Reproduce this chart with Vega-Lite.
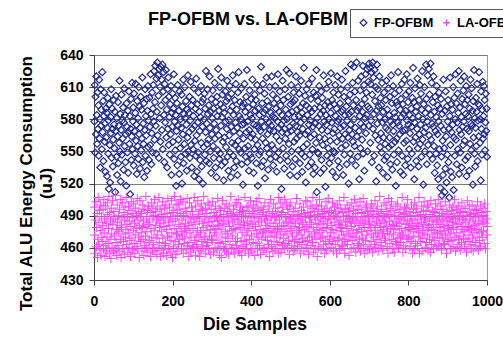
{
"$schema": "https://vega.github.io/schema/vega-lite/v6.json",
"width": 393, "height": 225,
"autosize": {"type": "none"},
"padding": {"left": 94, "top": 55, "right": 16, "bottom": 64},
"background": "white",
"config": {
 "font": "Liberation Sans",
 "view": {"stroke": "#9a9a9a", "strokeWidth": 1, "fill": "white"},
 "axis": {"labelFont": "Liberation Sans", "labelFontSize": 14, "labelFontWeight": "bold", "labelColor": "#000", "titleFont": "Liberation Sans", "titleFontSize": 17.5, "titleFontWeight": "bold", "titleColor": "#000", "domainColor": "#404040", "tickColor": "#404040", "tickSize": 5, "domainWidth": 1, "tickWidth": 1},
 "legend": {"strokeColor": "#555", "strokeWidth": 1}
},
"title": {"text": "FP-OFBM vs. LA-OFBM", "anchor": "start", "frame": "group", "dx": 54, "dy": 44, "fontSize": 18, "fontWeight": "bold", "font": "Liberation Sans", "color": "#000", "offset": 24},
"data": {"values": [
{"d":1,"fp":578,"la":472},{"d":2,"fp":612,"la":498},{"d":3,"fp":549,"la":455},{"d":4,"fp":601,"la":486},{"d":5,"fp":566,"la":503},{"d":6,"fp":620,"la":461},{"d":7,"fp":584,"la":479},{"d":8,"fp":557,"la":492},{"d":9,"fp":605,"la":451},{"d":10,"fp":571,"la":468},
{"d":11,"fp":593,"la":507},{"d":12,"fp":546,"la":463},{"d":13,"fp":617,"la":484},{"d":14,"fp":562,"la":495},{"d":15,"fp":580,"la":458},{"d":16,"fp":535,"la":476},{"d":17,"fp":608,"la":500},{"d":18,"fp":574,"la":453},{"d":19,"fp":589,"la":489},{"d":20,"fp":552,"la":470},
{"d":21,"fp":624,"la":466},{"d":22,"fp":568,"la":481},{"d":23,"fp":597,"la":496},{"d":24,"fp":541,"la":459},{"d":25,"fp":583,"la":505},{"d":26,"fp":605,"la":474},{"d":27,"fp":559,"la":487},{"d":28,"fp":576,"la":452},{"d":29,"fp":531,"la":499},{"d":30,"fp":590,"la":462},
{"d":31,"fp":563,"la":483},{"d":32,"fp":586,"la":457},{"d":33,"fp":527,"la":470},{"d":34,"fp":572,"la":502},{"d":35,"fp":600,"la":491},{"d":36,"fp":548,"la":464},{"d":37,"fp":579,"la":478},{"d":38,"fp":515,"la":508},{"d":39,"fp":594,"la":455},{"d":40,"fp":556,"la":493},
{"d":41,"fp":521,"la":468},{"d":42,"fp":582,"la":485},{"d":43,"fp":567,"la":450},{"d":44,"fp":608,"la":497},{"d":45,"fp":544,"la":473},{"d":46,"fp":590,"la":460},{"d":47,"fp":571,"la":504},{"d":48,"fp":536,"la":482},{"d":49,"fp":561,"la":489},{"d":50,"fp":598,"la":456},
{"d":51,"fp":575,"la":494},{"d":52,"fp":553,"la":471},{"d":53,"fp":587,"la":458},{"d":54,"fp":512,"la":487},{"d":55,"fp":569,"la":509},{"d":56,"fp":602,"la":465},{"d":57,"fp":545,"la":477},{"d":58,"fp":581,"la":453},{"d":59,"fp":528,"la":500},{"d":60,"fp":564,"la":484},
{"d":61,"fp":596,"la":462},{"d":62,"fp":539,"la":490},{"d":63,"fp":574,"la":475},{"d":64,"fp":558,"la":457},{"d":65,"fp":616,"la":496},{"d":66,"fp":550,"la":481},{"d":67,"fp":585,"la":468},{"d":68,"fp":522,"la":505},{"d":69,"fp":570,"la":451},{"d":70,"fp":603,"la":479},
{"d":71,"fp":547,"la":488},{"d":72,"fp":579,"la":459},{"d":73,"fp":562,"la":502},{"d":74,"fp":591,"la":473},{"d":75,"fp":533,"la":466},{"d":76,"fp":577,"la":493},{"d":77,"fp":609,"la":454},{"d":78,"fp":555,"la":486},{"d":79,"fp":584,"la":498},{"d":80,"fp":540,"la":470},
{"d":81,"fp":566,"la":477},{"d":82,"fp":518,"la":507},{"d":83,"fp":595,"la":463},{"d":84,"fp":573,"la":482},{"d":85,"fp":549,"la":491},{"d":86,"fp":588,"la":456},{"d":87,"fp":530,"la":474},{"d":88,"fp":568,"la":499},{"d":89,"fp":606,"la":460},{"d":90,"fp":557,"la":485},
{"d":91,"fp":583,"la":469},{"d":92,"fp":510,"la":495},{"d":93,"fp":571,"la":452},{"d":94,"fp":599,"la":480},{"d":95,"fp":542,"la":503},{"d":96,"fp":564,"la":467},{"d":97,"fp":614,"la":488},{"d":98,"fp":552,"la":458},{"d":99,"fp":578,"la":492},{"d":100,"fp":591,"la":476},
{"d":101,"fp":537,"la":501},{"d":102,"fp":604,"la":464},{"d":103,"fp":569,"la":483},{"d":104,"fp":548,"la":455},{"d":105,"fp":586,"la":472},{"d":106,"fp":613,"la":497},{"d":107,"fp":560,"la":461},{"d":108,"fp":575,"la":490},{"d":109,"fp":529,"la":478},{"d":110,"fp":597,"la":506},
{"d":111,"fp":555,"la":459},{"d":112,"fp":581,"la":486},{"d":113,"fp":543,"la":470},{"d":114,"fp":610,"la":494},{"d":115,"fp":566,"la":451},{"d":116,"fp":592,"la":481},{"d":117,"fp":534,"la":504},{"d":118,"fp":572,"la":466},{"d":119,"fp":601,"la":489},{"d":120,"fp":551,"la":474},
{"d":121,"fp":589,"la":492},{"d":122,"fp":562,"la":457},{"d":123,"fp":619,"la":479},{"d":124,"fp":540,"la":500},{"d":125,"fp":576,"la":468},{"d":126,"fp":557,"la":485},{"d":127,"fp":595,"la":453},{"d":128,"fp":526,"la":496},{"d":129,"fp":570,"la":462},{"d":130,"fp":608,"la":480},
{"d":131,"fp":546,"la":471},{"d":132,"fp":583,"la":508},{"d":133,"fp":565,"la":460},{"d":134,"fp":599,"la":487},{"d":135,"fp":532,"la":475},{"d":136,"fp":588,"la":495},{"d":137,"fp":611,"la":456},{"d":138,"fp":554,"la":482},{"d":139,"fp":579,"la":499},{"d":140,"fp":542,"la":465},
{"d":141,"fp":600,"la":484},{"d":142,"fp":573,"la":467},{"d":143,"fp":556,"la":493},{"d":144,"fp":622,"la":452},{"d":145,"fp":585,"la":478},{"d":146,"fp":538,"la":502},{"d":147,"fp":567,"la":470},{"d":148,"fp":605,"la":489},{"d":149,"fp":549,"la":458},{"d":150,"fp":590,"la":497},
{"d":151,"fp":612,"la":463},{"d":152,"fp":578,"la":490},{"d":153,"fp":625,"la":476},{"d":154,"fp":561,"la":505},{"d":155,"fp":596,"la":457},{"d":156,"fp":630,"la":481},{"d":157,"fp":574,"la":494},{"d":158,"fp":548,"la":469},{"d":159,"fp":618,"la":486},{"d":160,"fp":587,"la":454},
{"d":161,"fp":633,"la":499},{"d":162,"fp":565,"la":472},{"d":163,"fp":621,"la":460},{"d":164,"fp":602,"la":488},{"d":165,"fp":544,"la":507},{"d":166,"fp":627,"la":465},{"d":167,"fp":581,"la":479},{"d":168,"fp":610,"la":496},{"d":169,"fp":559,"la":452},{"d":170,"fp":629,"la":483},
{"d":171,"fp":593,"la":475},{"d":172,"fp":617,"la":491},{"d":173,"fp":570,"la":458},{"d":174,"fp":631,"la":503},{"d":175,"fp":552,"la":469},{"d":176,"fp":606,"la":486},{"d":177,"fp":624,"la":455},{"d":178,"fp":584,"la":480},{"d":179,"fp":540,"la":497},{"d":180,"fp":613,"la":462},
{"d":181,"fp":577,"la":488},{"d":182,"fp":598,"la":464},{"d":183,"fp":626,"la":500},{"d":184,"fp":563,"la":477},{"d":185,"fp":589,"la":453},{"d":186,"fp":535,"la":492},{"d":187,"fp":608,"la":471},{"d":188,"fp":571,"la":506},{"d":189,"fp":619,"la":459},{"d":190,"fp":556,"la":484},
{"d":191,"fp":601,"la":470},{"d":192,"fp":582,"la":498},{"d":193,"fp":547,"la":481},{"d":194,"fp":594,"la":456},{"d":195,"fp":566,"la":489},{"d":196,"fp":611,"la":467},{"d":197,"fp":528,"la":504},{"d":198,"fp":586,"la":474},{"d":199,"fp":573,"la":493},{"d":200,"fp":604,"la":451},
{"d":201,"fp":559,"la":485},{"d":202,"fp":590,"la":461},{"d":203,"fp":622,"la":495},{"d":204,"fp":543,"la":478},{"d":205,"fp":578,"la":508},{"d":206,"fp":600,"la":466},{"d":207,"fp":551,"la":487},{"d":208,"fp":584,"la":454},{"d":209,"fp":518,"la":500},{"d":210,"fp":569,"la":473},
{"d":211,"fp":595,"la":457},{"d":212,"fp":537,"la":490},{"d":213,"fp":612,"la":472},{"d":214,"fp":574,"la":501},{"d":215,"fp":561,"la":463},{"d":216,"fp":588,"la":482},{"d":217,"fp":529,"la":496},{"d":218,"fp":606,"la":468},{"d":219,"fp":553,"la":480},{"d":220,"fp":580,"la":505},
{"d":221,"fp":545,"la":492},{"d":222,"fp":572,"la":475},{"d":223,"fp":603,"la":459},{"d":224,"fp":520,"la":486},{"d":225,"fp":592,"la":471},{"d":226,"fp":566,"la":503},{"d":227,"fp":617,"la":455},{"d":228,"fp":539,"la":490},{"d":229,"fp":585,"la":464},{"d":230,"fp":557,"la":478},
{"d":231,"fp":610,"la":469},{"d":232,"fp":581,"la":497},{"d":233,"fp":548,"la":483},{"d":234,"fp":597,"la":458},{"d":235,"fp":575,"la":494},{"d":236,"fp":532,"la":476},{"d":237,"fp":589,"la":506},{"d":238,"fp":563,"la":462},{"d":239,"fp":621,"la":488},{"d":240,"fp":550,"la":452},
{"d":241,"fp":586,"la":481},{"d":242,"fp":568,"la":465},{"d":243,"fp":601,"la":502},{"d":244,"fp":544,"la":474},{"d":245,"fp":579,"la":489},{"d":246,"fp":615,"la":456},{"d":247,"fp":556,"la":470},{"d":248,"fp":593,"la":498},{"d":249,"fp":535,"la":484},{"d":250,"fp":571,"la":461},
{"d":251,"fp":598,"la":494},{"d":252,"fp":552,"la":478},{"d":253,"fp":583,"la":460},{"d":254,"fp":609,"la":487},{"d":255,"fp":527,"la":507},{"d":256,"fp":574,"la":467},{"d":257,"fp":560,"la":482},{"d":258,"fp":590,"la":453},{"d":259,"fp":546,"la":499},{"d":260,"fp":618,"la":472},
{"d":261,"fp":565,"la":463},{"d":262,"fp":531,"la":488},{"d":263,"fp":594,"la":476},{"d":264,"fp":577,"la":504},{"d":265,"fp":549,"la":458},{"d":266,"fp":605,"la":491},{"d":267,"fp":524,"la":470},{"d":268,"fp":587,"la":485},{"d":269,"fp":569,"la":452},{"d":270,"fp":542,"la":496},
{"d":271,"fp":582,"la":474},{"d":272,"fp":611,"la":457},{"d":273,"fp":558,"la":501},{"d":274,"fp":536,"la":466},{"d":275,"fp":596,"la":483},{"d":276,"fp":573,"la":495},{"d":277,"fp":520,"la":461},{"d":278,"fp":599,"la":479},{"d":279,"fp":554,"la":508},{"d":280,"fp":580,"la":468},
{"d":281,"fp":604,"la":487},{"d":282,"fp":547,"la":470},{"d":283,"fp":590,"la":455},{"d":284,"fp":568,"la":497},{"d":285,"fp":625,"la":476},{"d":286,"fp":541,"la":462},{"d":287,"fp":576,"la":492},{"d":288,"fp":557,"la":481},{"d":289,"fp":608,"la":465},{"d":290,"fp":585,"la":502},
{"d":291,"fp":561,"la":459},{"d":292,"fp":593,"la":484},{"d":293,"fp":539,"la":500},{"d":294,"fp":620,"la":471},{"d":295,"fp":572,"la":489},{"d":296,"fp":550,"la":454},{"d":297,"fp":587,"la":477},{"d":298,"fp":530,"la":496},{"d":299,"fp":599,"la":468},{"d":300,"fp":566,"la":485},
{"d":301,"fp":581,"la":503},{"d":302,"fp":607,"la":467},{"d":303,"fp":555,"la":480},{"d":304,"fp":590,"la":456},{"d":305,"fp":544,"la":493},{"d":306,"fp":576,"la":474},{"d":307,"fp":614,"la":488},{"d":308,"fp":562,"la":460},{"d":309,"fp":535,"la":499},{"d":310,"fp":596,"la":478},
{"d":311,"fp":570,"la":472},{"d":312,"fp":526,"la":490},{"d":313,"fp":601,"la":458},{"d":314,"fp":583,"la":485},{"d":315,"fp":551,"la":506},{"d":316,"fp":627,"la":465},{"d":317,"fp":565,"la":481},{"d":318,"fp":588,"la":497},{"d":319,"fp":543,"la":453},{"d":320,"fp":610,"la":486},
{"d":321,"fp":548,"la":464},{"d":322,"fp":594,"la":495},{"d":323,"fp":574,"la":477},{"d":324,"fp":619,"la":451},{"d":325,"fp":537,"la":488},{"d":326,"fp":582,"la":470},{"d":327,"fp":603,"la":504},{"d":328,"fp":559,"la":482},{"d":329,"fp":591,"la":461},{"d":330,"fp":523,"la":491},
{"d":331,"fp":586,"la":483},{"d":332,"fp":563,"la":458},{"d":333,"fp":540,"la":497},{"d":334,"fp":606,"la":475},{"d":335,"fp":578,"la":466},{"d":336,"fp":554,"la":501},{"d":337,"fp":597,"la":456},{"d":338,"fp":571,"la":489},{"d":339,"fp":616,"la":473},{"d":340,"fp":545,"la":494},
{"d":341,"fp":600,"la":469},{"d":342,"fp":532,"la":485},{"d":343,"fp":579,"la":454},{"d":344,"fp":565,"la":499},{"d":345,"fp":611,"la":480},{"d":346,"fp":549,"la":463},{"d":347,"fp":588,"la":492},{"d":348,"fp":526,"la":508},{"d":349,"fp":573,"la":476},{"d":350,"fp":604,"la":459},
{"d":351,"fp":558,"la":490},{"d":352,"fp":592,"la":471},{"d":353,"fp":621,"la":484},{"d":354,"fp":546,"la":460},{"d":355,"fp":584,"la":496},{"d":356,"fp":569,"la":478},{"d":357,"fp":535,"la":455},{"d":358,"fp":598,"la":487},{"d":359,"fp":556,"la":500},{"d":360,"fp":577,"la":466},
{"d":361,"fp":613,"la":477},{"d":362,"fp":541,"la":502},{"d":363,"fp":589,"la":462},{"d":364,"fp":572,"la":491},{"d":365,"fp":528,"la":469},{"d":366,"fp":605,"la":486},{"d":367,"fp":560,"la":505},{"d":368,"fp":624,"la":457},{"d":369,"fp":552,"la":482},{"d":370,"fp":583,"la":493},
{"d":371,"fp":567,"la":456},{"d":372,"fp":596,"la":479},{"d":373,"fp":549,"la":498},{"d":374,"fp":580,"la":466},{"d":375,"fp":609,"la":488},{"d":376,"fp":538,"la":453},{"d":377,"fp":575,"la":474},{"d":378,"fp":592,"la":495},{"d":379,"fp":519,"la":461},{"d":380,"fp":562,"la":484},
{"d":381,"fp":595,"la":494},{"d":382,"fp":576,"la":467},{"d":383,"fp":613,"la":481},{"d":384,"fp":553,"la":507},{"d":385,"fp":587,"la":458},{"d":386,"fp":545,"la":490},{"d":387,"fp":601,"la":472},{"d":388,"fp":568,"la":463},{"d":389,"fp":626,"la":498},{"d":390,"fp":540,"la":476},
{"d":391,"fp":578,"la":485},{"d":392,"fp":555,"la":499},{"d":393,"fp":591,"la":455},{"d":394,"fp":532,"la":478},{"d":395,"fp":570,"la":492},{"d":396,"fp":607,"la":468},{"d":397,"fp":547,"la":483},{"d":398,"fp":584,"la":504},{"d":399,"fp":563,"la":459},{"d":400,"fp":599,"la":488},
{"d":401,"fp":544,"la":471},{"d":402,"fp":581,"la":457},{"d":403,"fp":617,"la":494},{"d":404,"fp":566,"la":482},{"d":405,"fp":594,"la":465},{"d":406,"fp":530,"la":500},{"d":407,"fp":575,"la":476},{"d":408,"fp":552,"la":489},{"d":409,"fp":603,"la":453},{"d":410,"fp":588,"la":497},
{"d":411,"fp":561,"la":480},{"d":412,"fp":598,"la":464},{"d":413,"fp":539,"la":503},{"d":414,"fp":574,"la":473},{"d":415,"fp":612,"la":488},{"d":416,"fp":556,"la":459},{"d":417,"fp":518,"la":495},{"d":418,"fp":590,"la":470},{"d":419,"fp":572,"la":484},{"d":420,"fp":547,"la":506},
{"d":421,"fp":584,"la":462},{"d":422,"fp":607,"la":491},{"d":423,"fp":569,"la":477},{"d":424,"fp":550,"la":454},{"d":425,"fp":629,"la":498},{"d":426,"fp":578,"la":485},{"d":427,"fp":536,"la":468},{"d":428,"fp":595,"la":493},{"d":429,"fp":562,"la":474},{"d":430,"fp":613,"la":458},
{"d":431,"fp":541,"la":496},{"d":432,"fp":586,"la":475},{"d":433,"fp":573,"la":460},{"d":434,"fp":604,"la":487},{"d":435,"fp":525,"la":502},{"d":436,"fp":589,"la":470},{"d":437,"fp":558,"la":481},{"d":438,"fp":580,"la":456},{"d":439,"fp":619,"la":490},{"d":440,"fp":553,"la":478},
{"d":441,"fp":597,"la":467},{"d":442,"fp":566,"la":486},{"d":443,"fp":533,"la":499},{"d":444,"fp":592,"la":463},{"d":445,"fp":577,"la":476},{"d":446,"fp":548,"la":494},{"d":447,"fp":610,"la":452},{"d":448,"fp":570,"la":483},{"d":449,"fp":543,"la":505},{"d":450,"fp":586,"la":471},
{"d":451,"fp":574,"la":489},{"d":452,"fp":620,"la":461},{"d":453,"fp":556,"la":474},{"d":454,"fp":583,"la":492},{"d":455,"fp":603,"la":457},{"d":456,"fp":537,"la":480},{"d":457,"fp":569,"la":501},{"d":458,"fp":595,"la":466},{"d":459,"fp":552,"la":488},{"d":460,"fp":581,"la":475},
{"d":461,"fp":611,"la":458},{"d":462,"fp":545,"la":497},{"d":463,"fp":590,"la":483},{"d":464,"fp":564,"la":470},{"d":465,"fp":531,"la":490},{"d":466,"fp":599,"la":463},{"d":467,"fp":578,"la":478},{"d":468,"fp":622,"la":494},{"d":469,"fp":549,"la":455},{"d":470,"fp":572,"la":507},
{"d":471,"fp":587,"la":477},{"d":472,"fp":560,"la":486},{"d":473,"fp":606,"la":465},{"d":474,"fp":542,"la":502},{"d":475,"fp":593,"la":472},{"d":476,"fp":575,"la":456},{"d":477,"fp":515,"la":491},{"d":478,"fp":584,"la":480},{"d":479,"fp":568,"la":498},{"d":480,"fp":616,"la":462},
{"d":481,"fp":553,"la":493},{"d":482,"fp":598,"la":469},{"d":483,"fp":579,"la":481},{"d":484,"fp":534,"la":459},{"d":485,"fp":571,"la":505},{"d":486,"fp":608,"la":475},{"d":487,"fp":562,"la":488},{"d":488,"fp":589,"la":464},{"d":489,"fp":546,"la":484},{"d":490,"fp":626,"la":500},
{"d":491,"fp":580,"la":473},{"d":492,"fp":567,"la":460},{"d":493,"fp":541,"la":496},{"d":494,"fp":601,"la":483},{"d":495,"fp":585,"la":467},{"d":496,"fp":557,"la":491},{"d":497,"fp":623,"la":454},{"d":498,"fp":573,"la":499},{"d":499,"fp":528,"la":478},{"d":500,"fp":594,"la":487},
{"d":501,"fp":569,"la":502},{"d":502,"fp":612,"la":476},{"d":503,"fp":550,"la":462},{"d":504,"fp":587,"la":489},{"d":505,"fp":536,"la":471},{"d":506,"fp":596,"la":485},{"d":507,"fp":576,"la":457},{"d":508,"fp":605,"la":494},{"d":509,"fp":559,"la":480},{"d":510,"fp":582,"la":466},
{"d":511,"fp":598,"la":458},{"d":512,"fp":543,"la":497},{"d":513,"fp":574,"la":483},{"d":514,"fp":620,"la":468},{"d":515,"fp":562,"la":506},{"d":516,"fp":589,"la":474},{"d":517,"fp":527,"la":490},{"d":518,"fp":568,"la":461},{"d":519,"fp":610,"la":487},{"d":520,"fp":551,"la":476},
{"d":521,"fp":583,"la":491},{"d":522,"fp":604,"la":465},{"d":523,"fp":565,"la":479},{"d":524,"fp":539,"la":501},{"d":525,"fp":591,"la":455},{"d":526,"fp":577,"la":486},{"d":527,"fp":616,"la":472},{"d":528,"fp":548,"la":495},{"d":529,"fp":586,"la":463},{"d":530,"fp":531,"la":482},
{"d":531,"fp":571,"la":469},{"d":532,"fp":595,"la":484},{"d":533,"fp":554,"la":498},{"d":534,"fp":628,"la":457},{"d":535,"fp":580,"la":492},{"d":536,"fp":545,"la":477},{"d":537,"fp":602,"la":466},{"d":538,"fp":566,"la":488},{"d":539,"fp":521,"la":504},{"d":540,"fp":593,"la":460},
{"d":541,"fp":608,"la":480},{"d":542,"fp":557,"la":503},{"d":543,"fp":584,"la":467},{"d":544,"fp":569,"la":493},{"d":545,"fp":536,"la":475},{"d":546,"fp":613,"la":454},{"d":547,"fp":575,"la":490},{"d":548,"fp":590,"la":470},{"d":549,"fp":547,"la":484},{"d":550,"fp":579,"la":499},
{"d":551,"fp":563,"la":488},{"d":552,"fp":599,"la":462},{"d":553,"fp":540,"la":482},{"d":554,"fp":587,"la":471},{"d":555,"fp":618,"la":497},{"d":556,"fp":552,"la":465},{"d":557,"fp":573,"la":507},{"d":558,"fp":529,"la":479},{"d":559,"fp":605,"la":456},{"d":560,"fp":566,"la":494},
{"d":561,"fp":590,"la":473},{"d":562,"fp":535,"la":490},{"d":563,"fp":576,"la":459},{"d":564,"fp":602,"la":486},{"d":565,"fp":558,"la":468},{"d":566,"fp":626,"la":500},{"d":567,"fp":512,"la":477},{"d":568,"fp":581,"la":452},{"d":569,"fp":549,"la":491},{"d":570,"fp":597,"la":483},
{"d":571,"fp":548,"la":461},{"d":572,"fp":574,"la":496},{"d":573,"fp":611,"la":474},{"d":574,"fp":563,"la":505},{"d":575,"fp":591,"la":482},{"d":576,"fp":530,"la":469},{"d":577,"fp":585,"la":488},{"d":578,"fp":606,"la":458},{"d":579,"fp":542,"la":499},{"d":580,"fp":570,"la":476},
{"d":581,"fp":600,"la":492},{"d":582,"fp":556,"la":470},{"d":583,"fp":588,"la":485},{"d":584,"fp":621,"la":463},{"d":585,"fp":534,"la":478},{"d":586,"fp":578,"la":494},{"d":587,"fp":562,"la":455},{"d":588,"fp":593,"la":487},{"d":589,"fp":517,"la":466},{"d":590,"fp":584,"la":503},
{"d":591,"fp":575,"la":479},{"d":592,"fp":609,"la":458},{"d":593,"fp":546,"la":497},{"d":594,"fp":569,"la":483},{"d":595,"fp":596,"la":471},{"d":596,"fp":553,"la":506},{"d":597,"fp":615,"la":489},{"d":598,"fp":580,"la":464},{"d":599,"fp":539,"la":493},{"d":600,"fp":592,"la":468},
{"d":601,"fp":560,"la":487},{"d":602,"fp":586,"la":474},{"d":603,"fp":623,"la":460},{"d":604,"fp":544,"la":495},{"d":605,"fp":577,"la":481},{"d":606,"fp":598,"la":466},{"d":607,"fp":531,"la":502},{"d":608,"fp":567,"la":477},{"d":609,"fp":605,"la":457},{"d":610,"fp":550,"la":490},
{"d":611,"fp":594,"la":470},{"d":612,"fp":571,"la":498},{"d":613,"fp":549,"la":484},{"d":614,"fp":612,"la":463},{"d":615,"fp":583,"la":492},{"d":616,"fp":526,"la":476},{"d":617,"fp":590,"la":455},{"d":618,"fp":559,"la":488},{"d":619,"fp":620,"la":500},{"d":620,"fp":578,"la":467},
{"d":621,"fp":541,"la":494},{"d":622,"fp":603,"la":482},{"d":623,"fp":580,"la":469},{"d":624,"fp":565,"la":504},{"d":625,"fp":535,"la":458},{"d":626,"fp":595,"la":486},{"d":627,"fp":572,"la":479},{"d":628,"fp":608,"la":497},{"d":629,"fp":553,"la":461},{"d":630,"fp":587,"la":475},
{"d":631,"fp":617,"la":481},{"d":632,"fp":562,"la":462},{"d":633,"fp":589,"la":493},{"d":634,"fp":528,"la":472},{"d":635,"fp":574,"la":489},{"d":636,"fp":601,"la":507},{"d":637,"fp":547,"la":468},{"d":638,"fp":584,"la":455},{"d":639,"fp":566,"la":496},{"d":640,"fp":625,"la":484},
{"d":641,"fp":556,"la":466},{"d":642,"fp":592,"la":490},{"d":643,"fp":538,"la":478},{"d":644,"fp":579,"la":500},{"d":645,"fp":610,"la":463},{"d":646,"fp":563,"la":485},{"d":647,"fp":597,"la":473},{"d":648,"fp":520,"la":494},{"d":649,"fp":585,"la":453},{"d":650,"fp":570,"la":487},
{"d":651,"fp":603,"la":497},{"d":652,"fp":548,"la":471},{"d":653,"fp":575,"la":484},{"d":654,"fp":631,"la":459},{"d":655,"fp":587,"la":480},{"d":656,"fp":542,"la":502},{"d":657,"fp":566,"la":467},{"d":658,"fp":614,"la":488},{"d":659,"fp":559,"la":476},{"d":660,"fp":593,"la":495},
{"d":661,"fp":629,"la":460},{"d":662,"fp":580,"la":483},{"d":663,"fp":555,"la":505},{"d":664,"fp":606,"la":470},{"d":665,"fp":572,"la":492},{"d":666,"fp":537,"la":456},{"d":667,"fp":598,"la":486},{"d":668,"fp":633,"la":474},{"d":669,"fp":564,"la":499},{"d":670,"fp":588,"la":464},
{"d":671,"fp":545,"la":489},{"d":672,"fp":616,"la":477},{"d":673,"fp":591,"la":462},{"d":674,"fp":569,"la":496},{"d":675,"fp":524,"la":481},{"d":676,"fp":583,"la":468},{"d":677,"fp":607,"la":503},{"d":678,"fp":553,"la":457},{"d":679,"fp":576,"la":485},{"d":680,"fp":620,"la":493},
{"d":681,"fp":594,"la":475},{"d":682,"fp":561,"la":492},{"d":683,"fp":587,"la":469},{"d":684,"fp":630,"la":483},{"d":685,"fp":548,"la":506},{"d":686,"fp":573,"la":463},{"d":687,"fp":612,"la":488},{"d":688,"fp":532,"la":479},{"d":689,"fp":599,"la":455},{"d":690,"fp":581,"la":498},
{"d":691,"fp":622,"la":467},{"d":692,"fp":567,"la":486},{"d":693,"fp":605,"la":500},{"d":694,"fp":584,"la":472},{"d":695,"fp":627,"la":458},{"d":696,"fp":550,"la":494},{"d":697,"fp":592,"la":476},{"d":698,"fp":615,"la":490},{"d":699,"fp":574,"la":482},{"d":700,"fp":632,"la":461},
{"d":701,"fp":590,"la":484},{"d":702,"fp":628,"la":459},{"d":703,"fp":558,"la":495},{"d":704,"fp":613,"la":479},{"d":705,"fp":579,"la":466},{"d":706,"fp":624,"la":501},{"d":707,"fp":540,"la":473},{"d":708,"fp":603,"la":488},{"d":709,"fp":633,"la":456},{"d":710,"fp":571,"la":497},
{"d":711,"fp":619,"la":470},{"d":712,"fp":585,"la":491},{"d":713,"fp":546,"la":481},{"d":714,"fp":626,"la":463},{"d":715,"fp":597,"la":504},{"d":716,"fp":565,"la":476},{"d":717,"fp":610,"la":460},{"d":718,"fp":522,"la":494},{"d":719,"fp":588,"la":485},{"d":720,"fp":631,"la":468},
{"d":721,"fp":576,"la":499},{"d":722,"fp":608,"la":474},{"d":723,"fp":561,"la":457},{"d":724,"fp":592,"la":489},{"d":725,"fp":535,"la":471},{"d":726,"fp":620,"la":483},{"d":727,"fp":582,"la":508},{"d":728,"fp":554,"la":465},{"d":729,"fp":600,"la":479},{"d":730,"fp":567,"la":492},
{"d":731,"fp":593,"la":462},{"d":732,"fp":549,"la":496},{"d":733,"fp":614,"la":486},{"d":734,"fp":577,"la":473},{"d":735,"fp":530,"la":458},{"d":736,"fp":587,"la":490},{"d":737,"fp":563,"la":477},{"d":738,"fp":605,"la":502},{"d":739,"fp":542,"la":469},{"d":740,"fp":580,"la":484},
{"d":741,"fp":557,"la":488},{"d":742,"fp":598,"la":467},{"d":743,"fp":572,"la":500},{"d":744,"fp":616,"la":480},{"d":745,"fp":545,"la":494},{"d":746,"fp":589,"la":461},{"d":747,"fp":526,"la":475},{"d":748,"fp":570,"la":455},{"d":749,"fp":609,"la":491},{"d":750,"fp":554,"la":506},
{"d":751,"fp":584,"la":473},{"d":752,"fp":563,"la":485},{"d":753,"fp":601,"la":464},{"d":754,"fp":538,"la":497},{"d":755,"fp":578,"la":478},{"d":756,"fp":621,"la":489},{"d":757,"fp":556,"la":503},{"d":758,"fp":595,"la":468},{"d":759,"fp":533,"la":482},{"d":760,"fp":575,"la":459},
{"d":761,"fp":611,"la":495},{"d":762,"fp":569,"la":472},{"d":763,"fp":547,"la":481},{"d":764,"fp":586,"la":456},{"d":765,"fp":604,"la":490},{"d":766,"fp":559,"la":477},{"d":767,"fp":582,"la":466},{"d":768,"fp":518,"la":499},{"d":769,"fp":596,"la":484},{"d":770,"fp":562,"la":463},
{"d":771,"fp":540,"la":480},{"d":772,"fp":593,"la":501},{"d":773,"fp":577,"la":469},{"d":774,"fp":624,"la":487},{"d":775,"fp":551,"la":460},{"d":776,"fp":574,"la":493},{"d":777,"fp":607,"la":474},{"d":778,"fp":566,"la":483},{"d":779,"fp":589,"la":496},{"d":780,"fp":531,"la":470},
{"d":781,"fp":599,"la":465},{"d":782,"fp":582,"la":488},{"d":783,"fp":613,"la":478},{"d":784,"fp":546,"la":507},{"d":785,"fp":569,"la":472},{"d":786,"fp":594,"la":456},{"d":787,"fp":528,"la":491},{"d":788,"fp":585,"la":462},{"d":789,"fp":558,"la":486},{"d":790,"fp":617,"la":498},
{"d":791,"fp":570,"la":492},{"d":792,"fp":537,"la":476},{"d":793,"fp":588,"la":459},{"d":794,"fp":603,"la":482},{"d":795,"fp":560,"la":497},{"d":796,"fp":622,"la":468},{"d":797,"fp":579,"la":485},{"d":798,"fp":543,"la":505},{"d":799,"fp":596,"la":471},{"d":800,"fp":575,"la":479},
{"d":801,"fp":606,"la":469},{"d":802,"fp":552,"la":494},{"d":803,"fp":584,"la":483},{"d":804,"fp":567,"la":461},{"d":805,"fp":614,"la":490},{"d":806,"fp":535,"la":477},{"d":807,"fp":590,"la":466},{"d":808,"fp":573,"la":500},{"d":809,"fp":548,"la":487},{"d":810,"fp":600,"la":455},
{"d":811,"fp":581,"la":481},{"d":812,"fp":628,"la":470},{"d":813,"fp":559,"la":496},{"d":814,"fp":596,"la":475},{"d":815,"fp":524,"la":458},{"d":816,"fp":577,"la":502},{"d":817,"fp":609,"la":486},{"d":818,"fp":563,"la":464},{"d":819,"fp":587,"la":493},{"d":820,"fp":541,"la":478},
{"d":821,"fp":592,"la":497},{"d":822,"fp":571,"la":483},{"d":823,"fp":618,"la":462},{"d":824,"fp":553,"la":490},{"d":825,"fp":583,"la":471},{"d":826,"fp":536,"la":480},{"d":827,"fp":598,"la":507},{"d":828,"fp":566,"la":455},{"d":829,"fp":612,"la":474},{"d":830,"fp":557,"la":489},
{"d":831,"fp":575,"la":466},{"d":832,"fp":604,"la":491},{"d":833,"fp":545,"la":484},{"d":834,"fp":589,"la":499},{"d":835,"fp":625,"la":457},{"d":836,"fp":561,"la":476},{"d":837,"fp":580,"la":469},{"d":838,"fp":519,"la":494},{"d":839,"fp":594,"la":482},{"d":840,"fp":568,"la":503},
{"d":841,"fp":610,"la":487},{"d":842,"fp":550,"la":473},{"d":843,"fp":586,"la":460},{"d":844,"fp":572,"la":488},{"d":845,"fp":631,"la":495},{"d":846,"fp":599,"la":465},{"d":847,"fp":538,"la":481},{"d":848,"fp":578,"la":472},{"d":849,"fp":621,"la":500},{"d":850,"fp":556,"la":458},
{"d":851,"fp":590,"la":479},{"d":852,"fp":627,"la":498},{"d":853,"fp":565,"la":486},{"d":854,"fp":603,"la":468},{"d":855,"fp":547,"la":491},{"d":856,"fp":632,"la":456},{"d":857,"fp":584,"la":504},{"d":858,"fp":561,"la":477},{"d":859,"fp":614,"la":463},{"d":860,"fp":576,"la":485},
{"d":861,"fp":543,"la":494},{"d":862,"fp":596,"la":470},{"d":863,"fp":573,"la":482},{"d":864,"fp":620,"la":459},{"d":865,"fp":555,"la":476},{"d":866,"fp":587,"la":493},{"d":867,"fp":530,"la":467},{"d":868,"fp":601,"la":488},{"d":869,"fp":569,"la":501},{"d":870,"fp":548,"la":474},
{"d":871,"fp":582,"la":461},{"d":872,"fp":611,"la":484},{"d":873,"fp":537,"la":496},{"d":874,"fp":566,"la":473},{"d":875,"fp":593,"la":486},{"d":876,"fp":524,"la":505},{"d":877,"fp":578,"la":462},{"d":878,"fp":605,"la":479},{"d":879,"fp":552,"la":490},{"d":880,"fp":590,"la":469},
{"d":881,"fp":516,"la":482},{"d":882,"fp":574,"la":499},{"d":883,"fp":599,"la":475},{"d":884,"fp":545,"la":458},{"d":885,"fp":509,"la":492},{"d":886,"fp":585,"la":470},{"d":887,"fp":560,"la":487},{"d":888,"fp":528,"la":496},{"d":889,"fp":617,"la":464},{"d":890,"fp":570,"la":480},
{"d":891,"fp":553,"la":476},{"d":892,"fp":512,"la":463},{"d":893,"fp":588,"la":489},{"d":894,"fp":534,"la":503},{"d":895,"fp":606,"la":472},{"d":896,"fp":564,"la":485},{"d":897,"fp":521,"la":455},{"d":898,"fp":592,"la":494},{"d":899,"fp":547,"la":481},{"d":900,"fp":578,"la":468},
{"d":901,"fp":598,"la":491},{"d":902,"fp":540,"la":478},{"d":903,"fp":571,"la":466},{"d":904,"fp":507,"la":486},{"d":905,"fp":583,"la":500},{"d":906,"fp":619,"la":473},{"d":907,"fp":556,"la":459},{"d":908,"fp":531,"la":488},{"d":909,"fp":594,"la":477},{"d":910,"fp":568,"la":495},
{"d":911,"fp":526,"la":467},{"d":912,"fp":589,"la":484},{"d":913,"fp":575,"la":498},{"d":914,"fp":610,"la":461},{"d":915,"fp":514,"la":479},{"d":916,"fp":563,"la":492},{"d":917,"fp":600,"la":505},{"d":918,"fp":546,"la":470},{"d":919,"fp":580,"la":487},{"d":920,"fp":622,"la":457},
{"d":921,"fp":561,"la":483},{"d":922,"fp":595,"la":496},{"d":923,"fp":538,"la":474},{"d":924,"fp":577,"la":460},{"d":925,"fp":604,"la":490},{"d":926,"fp":552,"la":482},{"d":927,"fp":586,"la":468},{"d":928,"fp":625,"la":499},{"d":929,"fp":529,"la":463},{"d":930,"fp":570,"la":488},
{"d":931,"fp":591,"la":471},{"d":932,"fp":549,"la":458},{"d":933,"fp":616,"la":493},{"d":934,"fp":566,"la":480},{"d":935,"fp":582,"la":465},{"d":936,"fp":535,"la":502},{"d":937,"fp":599,"la":477},{"d":938,"fp":573,"la":486},{"d":939,"fp":556,"la":494},{"d":940,"fp":607,"la":469},
{"d":941,"fp":578,"la":487},{"d":942,"fp":620,"la":475},{"d":943,"fp":560,"la":461},{"d":944,"fp":594,"la":497},{"d":945,"fp":542,"la":484},{"d":946,"fp":585,"la":468},{"d":947,"fp":611,"la":490},{"d":948,"fp":527,"la":456},{"d":949,"fp":571,"la":479},{"d":950,"fp":598,"la":504},
{"d":951,"fp":545,"la":493},{"d":952,"fp":583,"la":466},{"d":953,"fp":603,"la":480},{"d":954,"fp":569,"la":472},{"d":955,"fp":532,"la":499},{"d":956,"fp":590,"la":486},{"d":957,"fp":557,"la":463},{"d":958,"fp":617,"la":491},{"d":959,"fp":576,"la":476},{"d":960,"fp":551,"la":459},
{"d":961,"fp":609,"la":478},{"d":962,"fp":574,"la":500},{"d":963,"fp":588,"la":469},{"d":964,"fp":519,"la":485},{"d":965,"fp":597,"la":457},{"d":966,"fp":563,"la":492},{"d":967,"fp":626,"la":474},{"d":968,"fp":548,"la":481},{"d":969,"fp":581,"la":496},{"d":970,"fp":536,"la":465},
{"d":971,"fp":572,"la":488},{"d":972,"fp":600,"la":462},{"d":973,"fp":555,"la":495},{"d":974,"fp":587,"la":477},{"d":975,"fp":613,"la":470},{"d":976,"fp":541,"la":503},{"d":977,"fp":579,"la":483},{"d":978,"fp":594,"la":458},{"d":979,"fp":564,"la":490},{"d":980,"fp":624,"la":474},
{"d":981,"fp":593,"la":467},{"d":982,"fp":558,"la":482},{"d":983,"fp":580,"la":499},{"d":984,"fp":523,"la":461},{"d":985,"fp":606,"la":489},{"d":986,"fp":571,"la":475},{"d":987,"fp":547,"la":493},{"d":988,"fp":589,"la":470},{"d":989,"fp":615,"la":485},{"d":990,"fp":562,"la":497},
{"d":991,"fp":583,"la":476},{"d":992,"fp":611,"la":490},{"d":993,"fp":566,"la":464},{"d":994,"fp":598,"la":501},{"d":995,"fp":551,"la":483},{"d":996,"fp":577,"la":459},{"d":997,"fp":604,"la":494},{"d":998,"fp":569,"la":472},{"d":999,"fp":590,"la":487},{"d":1000,"fp":545,"la":480}
]},
"transform": [{"fold": ["fp", "la"], "as": ["series", "energy"]}],
"encoding": {
 "x": {"field": "d", "type": "quantitative", "scale": {"domain": [0, 1000], "nice": false}, "axis": {"values": [0, 200, 400, 600, 800, 1000], "format": "d", "grid": false, "title": "Die Samples", "labelPadding": 9, "labelFlush": false, "labelOverlap": false, "titleX": 160.5, "titleY": 49, "titleAlign": "center", "titleBaseline": "alphabetic"}},
 "y": {"field": "energy", "type": "quantitative", "scale": {"domain": [430, 640], "nice": false, "zero": false}, "axis": {"values": [430, 460, 490, 520, 550, 580, 610, 640], "grid": true, "gridColor": "#7a7a7a", "gridWidth": 1, "title": ["Total ALU Energy Consumption", "(uJ)"], "titleFontSize": 17, "labelPadding": 6, "labelFlush": false, "titleX": -63, "titleY": 128, "titleAngle": 270, "titleAlign": "center", "titleBaseline": "alphabetic", "titleLineHeight": 20}},
 "color": {"field": "series", "type": "nominal", "scale": {"domain": ["fp", "la"], "range": ["#1f2b8f", "#ff40ff"]}, "legend": {"orient": "none", "legendX": 256, "legendY": -46, "direction": "horizontal", "title": null, "labelExpr": "datum.label == 'fp' ? 'FP-OFBM' : 'LA-OFBM'", "labelFont": "Liberation Sans", "labelFontSize": 13, "labelFontWeight": "bold", "labelColor": "#000", "strokeColor": "#555", "fillColor": "#fff", "padding": 7, "symbolSize": 45, "symbolStrokeWidth": 1.3, "labelOffset": 4, "columnPadding": 6, "encode": {"legend": {"update": {"stroke": {"value": "#555"}, "strokeWidth": {"value": 1}, "fill": {"value": "#fff"}}}}}},
 "shape": {"field": "series", "type": "nominal", "scale": {"domain": ["fp", "la"], "range": ["diamond", "M-1,0H1M0,-1V1"]}}
},
"layer": [
 {"transform": [{"filter": "datum.series == 'fp'"}], "mark": {"type": "point", "filled": false, "strokeWidth": 1.2, "size": 48, "opacity": 1}},
 {"transform": [{"filter": "datum.series == 'la'"}], "mark": {"type": "point", "filled": false, "strokeWidth": 1, "size": 90, "opacity": 1}}
]
}
